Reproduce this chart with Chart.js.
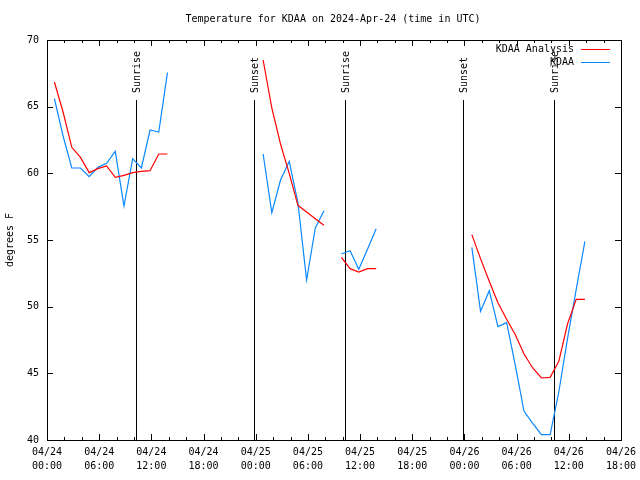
<!DOCTYPE html>
<html>
<head>
<meta charset="utf-8">
<script src="https://cdn.jsdelivr.net/npm/chart.js@4"></script>
<style>
  html, body { margin: 0; padding: 0; background: #fff; }
  canvas { display: block; }
</style>
</head>
<body>
<canvas id="chart" width="640" height="480"></canvas>
<script>
// hours since 2024-04-24 00:00 UTC (null rows break the lines)
const hours = [
    0.85, 1.85, 2.85, 3.85, 4.85, 5.85, 6.85, 7.85, 8.85, 9.85, 10.85, 11.85, 12.85, 13.85,
    14.85,
    24.85, 25.85, 26.85, 27.85, 28.85, 29.85, 30.85, 31.85,
    32.85,
    33.85, 34.85, 35.85, 36.85, 37.85,
    38.85,
    48.85, 49.85, 50.85, 51.85, 52.85, 53.85, 54.85, 55.85, 56.85, 57.85, 58.85, 59.85, 60.85, 61.85
];
const analysis = [
    66.85, 64.6, 61.95, 61.2, 60.05, 60.35, 60.55, 59.7, 59.85, 60.05, 60.15, 60.2, 61.45, 61.45,
    null,
    68.5, 64.9, 62.2, 60.0, 57.6, 57.1, 56.6, 56.1,
    null,
    53.7, 52.85, 52.6, 52.85, 52.85,
    null,
    55.4, 53.6, 51.9, 50.3, 49.05, 47.9, 46.45, 45.4, 44.65, 44.7, 45.9, 48.7, 50.55, 50.55
];
const observed = [
    65.6, 62.8, 60.4, 60.4, 59.75, 60.45, 60.75, 61.65, 57.55, 61.1, 60.4, 63.25, 63.1, 67.55,
    null,
    61.45, 57.05, 59.5, 60.9, 57.8, 52.0, 55.9, 57.2,
    null,
    53.95, 54.2, 52.8, 54.3, 55.85,
    null,
    54.45, 49.65, 51.2, 48.5, 48.8, 45.6, 42.15, 41.25, 40.4, 40.4, 43.6, 47.6, 51.3, 54.9
];

const sunHours = [10.27, 23.84, 34.30, 47.87, 58.33];
const sunLabels = ['Sunrise', 'Sunset', 'Sunrise', 'Sunset', 'Sunrise'];

const xTickHours = [0, 6, 12, 18, 24, 30, 36, 42, 48, 54, 60, 66];
const xTickLabels = [
    ['04/24', '00:00'], ['04/24', '06:00'], ['04/24', '12:00'], ['04/24', '18:00'],
    ['04/25', '00:00'], ['04/25', '06:00'], ['04/25', '12:00'], ['04/25', '18:00'],
    ['04/26', '00:00'], ['04/26', '06:00'], ['04/26', '12:00'], ['04/26', '18:00']
];
const yTicks = [40, 45, 50, 55, 60, 65, 70];

const titleText = 'Temperature for KDAA on 2024-Apr-24 (time in UTC)';
const FONT = '"DejaVu Sans Mono", monospace';

// frame, inward ticks, sun markers, key and title, gnuplot style
const decor = {
    id: 'decor',
    beforeDatasetsDraw(chart) {
        const {ctx, chartArea: a, scales: {x}} = chart;
        ctx.save();
        ctx.strokeStyle = '#000';
        ctx.fillStyle = '#000';
        ctx.lineWidth = 1;
        ctx.font = '10px ' + FONT;
        const top = a.top + (a.bottom - a.top) * 0.15;
        sunHours.forEach((h, i) => {
            const px = Math.round(x.getPixelForValue(h)) + 0.5;
            ctx.beginPath();
            ctx.moveTo(px, top);
            ctx.lineTo(px, a.bottom);
            ctx.stroke();
            ctx.save();
            ctx.translate(px + 1, top - 7);
            ctx.rotate(-Math.PI / 2);
            ctx.textAlign = 'left';
            ctx.textBaseline = 'middle';
            ctx.fillText(sunLabels[i], 0, 0);
            ctx.restore();
        });
        ctx.restore();
    },
    afterDraw(chart) {
        const {ctx, chartArea: a, scales: {x, y}} = chart;
        ctx.save();
        ctx.strokeStyle = '#000';
        ctx.fillStyle = '#000';
        ctx.lineWidth = 1;
        ctx.strokeRect(a.left + 0.5, a.top + 0.5, a.right - a.left, a.bottom - a.top);

        ctx.beginPath();
        for (let h = 0; h <= 66; h += 2) {
            const px = Math.round(x.getPixelForValue(h)) + 0.5;
            const len = h % 6 === 0 ? 6 : 3;
            ctx.moveTo(px, a.bottom);
            ctx.lineTo(px, a.bottom - len);
            ctx.moveTo(px, a.top);
            ctx.lineTo(px, a.top + len);
        }
        yTicks.forEach(v => {
            const py = Math.round(y.getPixelForValue(v)) + 0.5;
            ctx.moveTo(a.left, py);
            ctx.lineTo(a.left + 6, py);
            ctx.moveTo(a.right, py);
            ctx.lineTo(a.right - 6, py);
        });
        ctx.stroke();

        // key
        ctx.font = '10px ' + FONT;
        ctx.textAlign = 'right';
        ctx.textBaseline = 'middle';
        chart.data.datasets.forEach((ds, i) => {
            const ky = 49.5 + i * 13;
            ctx.fillStyle = '#000';
            ctx.fillText(ds.label, 574, ky);
            ctx.strokeStyle = ds.borderColor;
            ctx.beginPath();
            ctx.moveTo(581, ky);
            ctx.lineTo(610, ky);
            ctx.stroke();
        });

        // title
        ctx.fillStyle = '#000';
        ctx.textAlign = 'center';
        ctx.fillText(titleText, 333, 19.5);
        ctx.restore();
    }
};

new Chart(document.getElementById('chart'), {
    type: 'line',
    data: {
        datasets: [
            {
                label: 'KDAA Analysis',
                data: hours.map((h, i) => ({x: h, y: analysis[i]})),
                borderColor: '#ff0000',
                borderWidth: 1.2,
                pointRadius: 0,
                spanGaps: false,
                tension: 0
            },
            {
                label: 'KDAA',
                data: hours.map((h, i) => ({x: h, y: observed[i]})),
                borderColor: '#0a88ff',
                borderWidth: 1.2,
                pointRadius: 0,
                spanGaps: false,
                tension: 0
            }
        ]
    },
    options: {
        responsive: false,
        animation: false,
        events: [],
        layout: {
            padding: {top: 40, right: 19, left: 0, bottom: 0}
        },
        plugins: {
            legend: {display: false},
            tooltip: {enabled: false}
        },
        scales: {
            x: {
                type: 'linear',
                min: 0,
                max: 66,
                afterFit: s => {
                    s.height = 40;
                    s.paddingLeft = 0;
                    s.paddingRight = 0;
                },
                afterBuildTicks: s => { s.ticks = xTickHours.map(v => ({value: v})); },
                grid: {display: false, drawTicks: false, tickLength: 0},
                border: {display: false},
                ticks: {
                    autoSkip: false,
                    maxRotation: 0,
                    padding: 6,
                    color: '#000',
                    font: {family: FONT, size: 10, lineHeight: 1.35},
                    callback: v => xTickLabels[xTickHours.indexOf(v)]
                }
            },
            y: {
                min: 40,
                max: 70,
                afterFit: s => { s.width = 47; },
                afterBuildTicks: s => { s.ticks = yTicks.map(v => ({value: v})); },
                grid: {display: false, drawTicks: false, tickLength: 0},
                border: {display: false},
                ticks: {
                    padding: 8,
                    color: '#000',
                    font: {family: FONT, size: 10}
                },
                title: {
                    display: true,
                    text: 'degrees F',
                    color: '#000',
                    padding: {top: 4, bottom: 0},
                    font: {family: FONT, size: 10, lineHeight: 1.2}
                }
            }
        }
    },
    plugins: [decor]
});
</script>
</body>
</html>
